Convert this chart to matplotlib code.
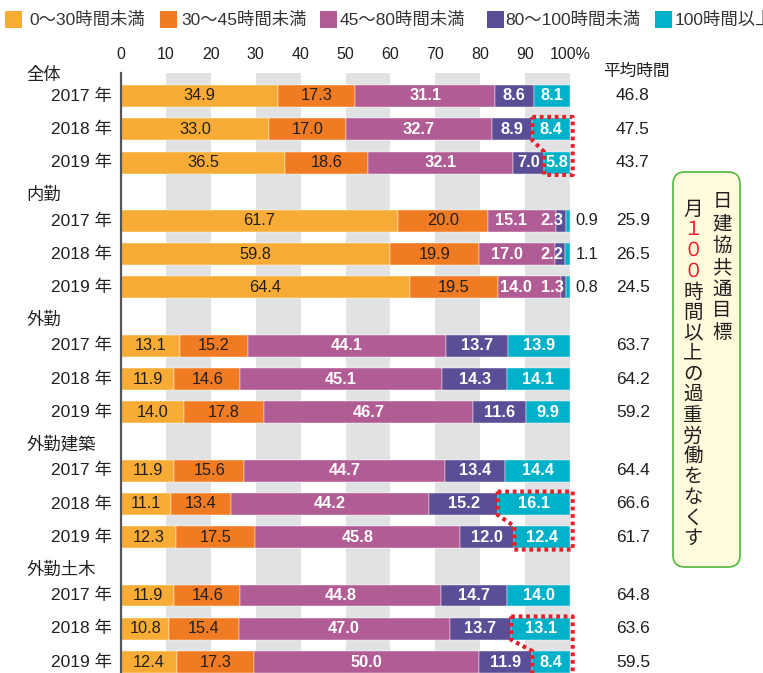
import matplotlib
matplotlib.use("Agg")
import matplotlib.pyplot as plt
from matplotlib.patches import FancyBboxPatch, Rectangle
import numpy as np

plt.rcParams['font.family'] = ['Liberation Sans', 'Noto Sans CJK JP', 'DejaVu Sans']

# ---------------- data ----------------
groups = ['全体', '内勤', '外勤', '外勤建築', '外勤土木']
years = ['2017 年', '2018 年', '2019 年']
series_names = ['0～30時間未満', '30～45時間未満', '45～80時間未満', '80～100時間未満', '100時間以上']
under30 = [34.9, 33.0, 36.5, 61.7, 59.8, 64.4, 13.1, 11.9, 14.0, 11.9, 11.1, 12.3, 11.9, 10.8, 12.4]
h30_45 = [17.3, 17.0, 18.6, 20.0, 19.9, 19.5, 15.2, 14.6, 17.8, 15.6, 13.4, 17.5, 14.6, 15.4, 17.3]
h45_80 = [31.1, 32.7, 32.1, 15.1, 17.0, 14.0, 44.1, 45.1, 46.7, 44.7, 44.2, 45.8, 44.8, 47.0, 50.0]
h80_100 = [8.6, 8.9, 7.0, 2.3, 2.2, 1.3, 13.7, 14.3, 11.6, 13.4, 15.2, 12.0, 14.7, 13.7, 11.9]
over100 = [8.1, 8.4, 5.8, 0.9, 1.1, 0.8, 13.9, 14.1, 9.9, 14.4, 16.1, 12.4, 14.0, 13.1, 8.4]
avg_hours = [46.8, 47.5, 43.7, 25.9, 26.5, 24.5, 63.7, 64.2, 59.2, 64.4, 66.6, 61.7, 64.8, 63.6, 59.5]
xticks = [0, 10, 20, 30, 40, 50, 60, 70, 80, 90, 100]
xticklabels = ['0', '10', '20', '30', '40', '50', '60', '70', '80', '90', '100%']
highlight_groups = ['全体', '外勤建築', '外勤土木']  # 2018-2019 100h+ outlined
box_title = '日建協共通目標'
box_text = ['月', '１', '０', '０', '時', '間', '以', '上', 'の', '過', '重', '労', '働', 'を', 'な', 'く', 'す']

# ---------------- style ----------------
colors = ['#F9AC35', '#F07B22', '#B15C94', '#5B4E97', '#00B2C9']
label_colors = ['#231F20', '#231F20', 'white', 'white', 'white']
label_weights = ['normal', 'normal', 'bold', 'bold', 'bold']
band_color = '#E1E2E4'
txt = '#231F20'

W, H = 763, 673
fig = plt.figure(figsize=(W / 100, H / 100), dpi=100)
ax_top_px = 73
ax = fig.add_axes([121 / W, 0, 449 / W, 1 - ax_top_px / H])

row_px = 33.3
group_step = 3.75
first_center_px = 96
ax.set_ylim((H - first_center_px) / row_px, (ax_top_px - first_center_px) / row_px)
ax.set_xlim(0, 100)

series = [under30, h30_45, h45_80, h80_100, over100]
n_years = len(years)
ypos = []
for g in range(len(groups)):
    for i in range(n_years):
        ypos.append(g * group_step + i)
ypos = np.array(ypos)
bar_h = 0.66

for k in range(1, 10, 2):
    ax.axvspan(k * 10, k * 10 + 10, color=band_color, lw=0, zorder=0)

left = np.zeros(len(ypos))
for s, vals in enumerate(series):
    vals = np.array(vals)
    ax.barh(ypos, vals, left=left, height=bar_h, color=colors[s],
            edgecolor='white', linewidth=0.3, zorder=2)
    left += vals

# segment labels
for r in range(len(ypos)):
    cum = np.cumsum([series[s][r] for s in range(5)])
    starts = cum - np.array([series[s][r] for s in range(5)])
    small_purple = series[3][r] < 4
    for s in range(5):
        v = series[s][r]
        y = ypos[r]
        kw = dict(va='center', fontsize=11.8, color=label_colors[s],
                  fontweight=label_weights[s], zorder=4)
        if small_purple and s == 4:
            ax.text(101.3, y, f'{v:.1f}', ha='left', clip_on=False,
                    **{**kw, 'color': txt, 'fontweight': 'normal'})
        elif small_purple and s == 3:
            ax.text(98.6, y, f'{v:.1f}', ha='right', **kw)
        elif small_purple and s == 2:
            ax.text((starts[s] + 92.0) / 2, y, f'{v:.1f}', ha='center', **kw)
        else:
            ax.text((starts[s] + cum[s]) / 2, y, f'{v:.1f}', ha='center', **kw)

# y labels
for r, y in enumerate(ypos):
    ax.text(-2.0, y, years[r % n_years], ha='right', va='center', fontsize=12.5,
            color=txt, clip_on=False)
    ax.text(114.0, y, f'{avg_hours[r]:.1f}', ha='center', va='center', fontsize=12.5,
            color=txt, clip_on=False)
for g, name in enumerate(groups):
    off = -0.63 if g == 0 else -0.78
    ax.text(-21.0, g * group_step + off, name, ha='left', va='center', fontsize=12.5,
            color=txt, clip_on=False)
ax.text(114.7, (71 - first_center_px) / row_px, '平均時間', ha='center', va='center',
        fontsize=12, color=txt, clip_on=False)

# axes styling
ax.xaxis.tick_top()
ax.set_xticks(xticks)
ax.set_xticklabels(xticklabels, fontsize=11.5, color=txt)
ax.tick_params(axis='x', length=0, pad=8)
ax.set_yticks([])
for sp in ['top', 'right', 'bottom']:
    ax.spines[sp].set_visible(False)
ax.spines['left'].set_color('#555555')
ax.spines['left'].set_linewidth(1.6)
ax.spines['left'].set_zorder(5)

# red dotted outlines around 100h+ for 2018-2019
for gname in highlight_groups:
    g = groups.index(gname)
    r18 = g * n_years + 1
    r19 = g * n_years + 2
    x18 = 100 - over100[r18]
    x19 = 100 - over100[r19]
    y18t = ypos[r18] - bar_h / 2 - 0.04
    y18b = ypos[r18] + bar_h / 2
    y19t = ypos[r19] - bar_h / 2
    y19b = ypos[r19] + bar_h / 2 + 0.04
    xs = [x18, 100.6, 100.6, x19, x19, x18, x18]
    ys = [y18t, y18t, y19b, y19b, y19t, y18b, y18t]
    ax.plot(xs, ys, color='#E8202A', lw=3.0, linestyle=(0, (0.9, 0.9)),
            dash_capstyle='butt', zorder=6, clip_on=False)

# legend (manual, in pixels)
tr = fig.dpi_scale_trans
leg_sq_x = [5, 160, 320, 487, 655]
leg_tx_x = [29, 181, 340, 505, 675]
for i, name in enumerate(series_names):
    fig.add_artist(Rectangle((leg_sq_x[i] / 100, (H - 28) / 100), 0.17, 0.17,
                             transform=tr, facecolor=colors[i], edgecolor='none'))
    fig.text(leg_tx_x[i] / 100, (H - 19.5) / 100, name, transform=tr, ha='left',
             va='center', fontsize=12.5, color='#333333')

# goal box
box = FancyBboxPatch((673 / 100, (H - 567) / 100), 0.67, 3.95,
                     boxstyle='round,pad=0,rounding_size=0.12', transform=tr,
                     facecolor='#FFFBDC', edgecolor='#5DBB4B', linewidth=1.3)
fig.add_artist(box)
for j, ch in enumerate(box_title):
    fig.text(7.22, (H - (203 + j * 21.7)) / 100, ch, transform=tr, ha='center',
             va='center', fontsize=14, color=txt)
for j, ch in enumerate(box_text):
    col = '#E8202A' if ch in '１０' else txt
    fig.text(6.93, (H - (210 + j * 20.6)) / 100, ch, transform=tr, ha='center',
             va='center', fontsize=14, color=col)

fig.savefig('out.png', dpi=100)
